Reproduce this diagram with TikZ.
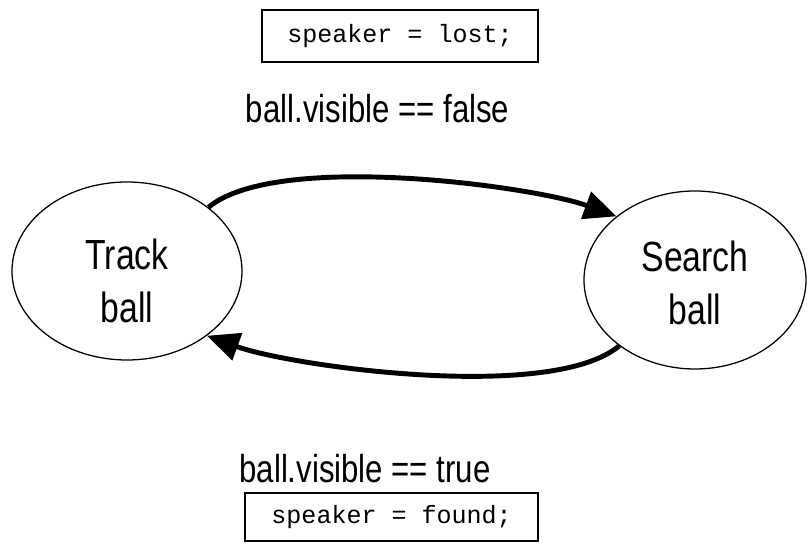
\documentclass[tikz,border=0pt]{standalone}
\usepackage{fontspec}
\setmainfont{Liberation Sans}[FakeStretch=0.8]
\setmonofont{Liberation Mono}
\usetikzlibrary{arrows.meta, shapes.geometric}
\begin{document}
\begin{tikzpicture}
    % Definizione stili
    \tikzset{
        state/.style={ellipse, draw, line width=0.9pt, inner sep=0pt,
                     minimum height=4.45cm, align=center,
                     font=\fontsize{30}{37.7}\selectfont},
        action/.style={rectangle, draw, line width=1.2pt,
                      minimum height=1.3cm, text centered,
                      font=\ttfamily\fontsize{17.8}{20}\selectfont},
        cond/.style={anchor=base, font=\fontsize{27.7}{32}\selectfont},
        flow/.style={line width=3.5pt, -{Triangle[length=23pt, width=20pt]}}
    }
    \useasboundingbox (0,0) rectangle (20.2,13.6);

    % Stati
    \node[state, minimum width=5.75cm, text height=74pt] (track) at (3.175,6.825) {Track\\ball};
    \node[state, minimum width=5.55cm, text height=64pt] (search) at (17.375,6.6) {Search\\ball};

    % Azioni
    \node[action, minimum width=6.9cm] (lost) at (10.0,12.7) {speaker = lost;};
    \node[action, minimum width=7.325cm, minimum height=1.2cm] (found) at (9.79,0.675) {speaker = found;};

    % Condizioni
    \node[cond] (nottvis) at (9.44,10.525) {ball.visible == false};
    \node[cond] (isvis) at (9.125,1.525) {ball.visible == true};

    % Transizioni
    \draw[flow] (track.38) to[out=40, in=160, looseness=0.55] (search.141);
    \draw[flow] (search.-139) to[out=-140, in=-20, looseness=0.55] (track.-39);
\end{tikzpicture}
\end{document}
